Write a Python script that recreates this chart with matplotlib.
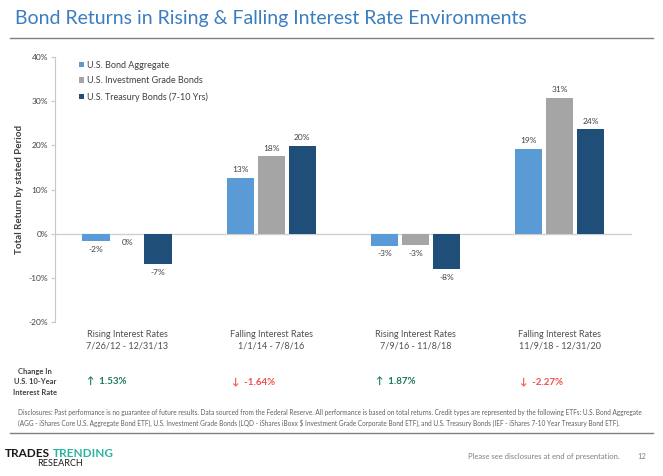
import numpy as np
from matplotlib import pyplot as plt

# returns per period, in percent
periods = ["Rising Interest Rates\n7/26/12 - 12/31/13",
           "Falling Interest Rates\n1/1/14 - 7/8/16",
           "Rising Interest Rates\n7/9/16 - 11/8/18",
           "Falling Interest Rates\n11/9/18 - 12/31/20"]
series_names = ["U.S. Bond Aggregate", "U.S. Investment Grade Bonds", "U.S. Treasury Bonds (7-10 Yrs)"]
bond_agg = [-1.7, 12.7, -2.7, 19.2]
inv_grade = [-0.1, 17.6, -2.6, 30.8]
treasury = [-6.9, 19.9, -8.1, 23.7]
rate_change = [1.53, -1.64, 1.87, -2.27]

colors = ["#5B9BD5", "#A5A5A5", "#1F4E79"]
GREEN = "#1E7B55"
RED = "#F0504F"
TITLE_BLUE = "#3A7DC1"
FONT = ["Lato", "DejaVu Sans"]

plt.rcParams['font.family'] = FONT

fig = plt.figure(figsize=(6.63, 4.76), dpi=100)
ax = fig.add_axes([0.083, 0.3235, 0.870, 0.5567])

x = np.arange(len(periods))
w = 0.19
step = 0.215
for i, (vals, name) in enumerate(zip([bond_agg, inv_grade, treasury], series_names)):
    pos = x + (i - 1) * step
    bars = ax.bar(pos, vals, w, color=colors[i], label=name, zorder=2)
    for p, v in zip(pos, vals):
        lab = "{:.0f}%".format(round(v))
        if lab == "-0%":
            lab = "0%"
        if v >= 0:
            ax.text(p, v + 1.0, lab, ha="center", va="bottom", fontsize=6, color="#404040")
        else:
            ax.text(p, v - 1.0, lab, ha="center", va="top", fontsize=6, color="#404040")

ax.set_xlim(-0.5, 3.5)
ax.set_ylim(-20, 40)
ax.set_yticks(np.arange(-20, 41, 10))
ax.set_yticklabels(["{}%".format(t) for t in range(-20, 41, 10)], fontsize=6, color="#404040")
ax.axhline(0, color="#D0D0D0", lw=1, zorder=1)
for s in ["top", "right", "bottom"]:
    ax.spines[s].set_visible(False)
ax.spines["left"].set_color("#C8C8C8")
ax.tick_params(axis="y", length=3, color="#C8C8C8", pad=2)
ax.set_xticks([])
ax.set_ylabel("Total Return by stated Period", fontsize=7, fontweight="bold", color="#404040", labelpad=3)

for i, lab in enumerate(periods):
    ax.annotate(lab, (i, -20), xytext=(0, -6), textcoords="offset points",
                ha="center", va="top", fontsize=6.5, color="#505050", linespacing=1.3,
                annotation_clip=False)

leg = ax.legend(loc="upper left", bbox_to_anchor=(0.035, 1.0), frameon=False, fontsize=6.5,
                handlelength=0.6, handleheight=0.6, handletextpad=0.3, labelspacing=0.75,
                borderaxespad=0.0)
for t in leg.get_texts():
    t.set_color("#404040")

# title
fig.text(0.023, 0.962, "Bond Returns in Rising & Falling Interest Rate Environments",
         fontsize=14, color=TITLE_BLUE, va="center", ha="left")
fig.add_artist(plt.Line2D([0.015, 0.985], [0.921, 0.921], color="#808080", lw=1))

# change in 10 year rate
fig.text(0.053, 0.198, "Change In\nU.S. 10-Year\nInterest Rate", fontsize=5.5, fontweight="bold",
         color="#404040", ha="center", va="center", linespacing=1.6)
for i, c in enumerate(rate_change):
    xf = 0.083 + 0.870 * (i + 0.5) / 4 - 0.06
    if c > 0:
        txt, col = "\u2191  {:.2f}%".format(c), GREEN
    else:
        txt, col = "\u2193  {:.2f}%".format(c), RED
    fig.text(xf, 0.199, txt, fontsize=7, fontweight="bold", color=col, ha="left", va="center")

# disclosures
disc = ("Disclosures: Past performance is no guarantee of future results. Data sourced from the Federal Reserve. "
        "All performance is based on total returns. Credit types are represented by the following ETFs: U.S. Bond Aggregate\n"
        "(AGG - iShares Core U.S. Aggregate Bond ETF), U.S. Investment Grade Bonds (LQD - iShares iBoxx $ Investment Grade "
        "Corporate Bond ETF), and U.S. Treasury Bonds (IEF - iShares 7-10 Year Treasury Bond ETF).")
fig.text(0.027, 0.122, disc, fontsize=4.7, color="#606060", ha="left", va="center", linespacing=1.6)
fig.add_artist(plt.Line2D([0.015, 0.985], [0.09, 0.09], color="#808080", lw=1))

# logo and footer
fig.text(0.008, 0.048, "TRADES", fontsize=8.5, fontweight="bold", color="#1A1A1A", ha="left", va="center")
fig.text(0.079, 0.048, "TRENDING", fontsize=8.5, fontweight="bold", color="#2BB3A0", ha="left", va="center")
fig.text(0.09, 0.027, "RESEARCH", fontsize=6.5, color="#1A1A1A", ha="center", va="center")
fig.text(0.935, 0.04, "Please see disclosures at end of presentation.", fontsize=5.5, color="#808080",
         ha="right", va="center")
fig.text(0.975, 0.04, "12", fontsize=5.5, color="#808080", ha="right", va="center")

fig.savefig("out.png", dpi=100)
